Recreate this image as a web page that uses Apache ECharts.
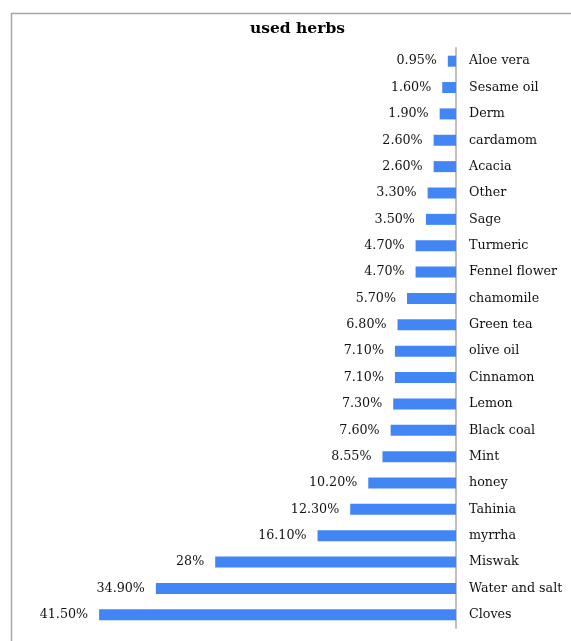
<!DOCTYPE html>
<html>
<head>
<meta charset="utf-8">
<script src="https://cdn.jsdelivr.net/npm/echarts@6/dist/echarts.min.js"></script>
<style>
  html, body { margin: 0; padding: 0; background: #fff; }
  #main { width: 571px; height: 641px; }
</style>
</head>
<body>
<div id="main"></div>
<script>
// categories top to bottom
var herbs = ['Aloe vera', 'Sesame oil', 'Derm', 'cardamom', 'Acacia', 'Other', 'Sage',
    'Turmeric', 'Fennel flower', 'chamomile', 'Green tea', 'olive oil', 'Cinnamon',
    'Lemon', 'Black coal', 'Mint', 'honey', 'Tahinia', 'myrrha', 'Miswak',
    'Water and salt', 'Cloves'];
var percents = [0.95, 1.6, 1.9, 2.6, 2.6, 3.3, 3.5, 4.7, 4.7, 5.7, 6.8, 7.1, 7.1,
    7.3, 7.6, 8.55, 10.2, 12.3, 16.1, 28, 34.9, 41.5];
var percentLabels = ['0.95%', '1.60%', '1.90%', '2.60%', '2.60%', '3.30%', '3.50%',
    '4.70%', '4.70%', '5.70%', '6.80%', '7.10%', '7.10%', '7.30%', '7.60%', '8.55%',
    '10.20%', '12.30%', '16.10%', '28%', '34.90%', '41.50%'];

var chart = echarts.init(document.getElementById('main'));
var font = '"DejaVu Serif", serif';

var option = {
    animation: false,
    title: {
        text: 'used herbs',
        left: 245,
        top: 16,
        textStyle: { fontFamily: font, fontSize: 15.5, fontWeight: 'bold', color: '#000' }
    },
    graphic: [{
        type: 'rect',
        shape: { x: 11.5, y: 13.5, width: 700, height: 700 },
        style: { fill: 'none', stroke: '#a6a6a6', lineWidth: 1.5 },
        silent: true
    }],
    grid: { left: 69, right: 115, top: 48, height: 580, containLabel: false },
    xAxis: {
        type: 'value',
        inverse: true,
        min: 0,
        max: 45,
        show: false
    },
    yAxis: {
        type: 'category',
        position: 'right',
        inverse: true,
        data: herbs,
        axisLine: { show: true, lineStyle: { color: '#bfbfbf', width: 2 } },
        axisTick: { show: false },
        axisLabel: {
            margin: 13,
            align: 'left',
            fontFamily: font,
            fontSize: 12.7,
            color: '#111'
        }
    },
    series: [{
        type: 'bar',
        data: percents,
        barWidth: 11,
        itemStyle: { color: '#4285F4' },
        label: {
            show: true,
            position: 'left',
            distance: 11,
            fontFamily: font,
            fontSize: 12.7,
            color: '#111',
            formatter: function (p) { return percentLabels[p.dataIndex]; }
        }
    }]
};

chart.setOption(option);
</script>
</body>
</html>
